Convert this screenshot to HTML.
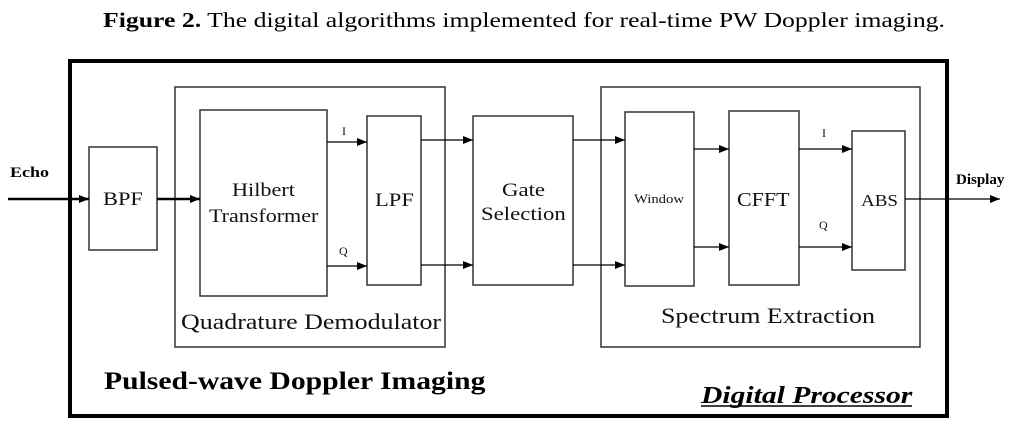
<!DOCTYPE html>
<html><head><style>body{margin:0;background:#fff}</style></head><body>
<svg width="1024" height="426" xmlns="http://www.w3.org/2000/svg" font-family="Liberation Serif, serif">
<defs><marker id="a" markerWidth="10" markerHeight="8" refX="10" refY="4" orient="auto" markerUnits="userSpaceOnUse"><path d="M0,0L10,4L0,8z" fill="#000"/></marker></defs>
<text transform="translate(103,27) scale(1.226,1)" font-size="21"><tspan font-weight="bold">Figure 2.</tspan> The digital algorithms implemented for real-time PW Doppler imaging.</text>
<rect x="70" y="61" width="877" height="355" fill="none" stroke="#000" stroke-width="4"/>
<g fill="none" stroke="#333" stroke-width="1.5">
<rect x="89" y="147" width="68" height="103"/>
<rect x="175" y="87" width="270" height="260"/>
<rect x="200" y="110" width="127" height="186"/>
<rect x="367" y="116" width="54" height="169"/>
<rect x="473" y="116" width="100" height="169"/>
<rect x="601" y="87" width="319" height="260"/>
<rect x="625" y="112" width="69" height="174"/>
<rect x="729" y="111" width="70" height="174"/>
<rect x="852" y="131" width="53" height="139"/>
</g>
<g stroke="#000" fill="none" stroke-width="1.3" marker-end="url(#a)">
<line x1="8" y1="199" x2="89" y2="199" stroke-width="2.5"/>
<line x1="157" y1="199" x2="200" y2="199" stroke-width="2.5"/>
<line x1="327" y1="142" x2="367" y2="142"/>
<line x1="327" y1="266" x2="367" y2="266"/>
<line x1="421" y1="140" x2="473" y2="140"/>
<line x1="421" y1="265" x2="473" y2="265"/>
<line x1="573" y1="140" x2="625" y2="140"/>
<line x1="573" y1="265" x2="625" y2="265"/>
<line x1="694" y1="149" x2="729" y2="149"/>
<line x1="694" y1="247" x2="729" y2="247"/>
<line x1="799" y1="149" x2="852" y2="149"/>
<line x1="799" y1="247" x2="852" y2="247"/>
<line x1="905" y1="199" x2="1000" y2="199"/>
</g>
<g font-size="20" fill="#111">
<text transform="translate(103,205) scale(1.18,1)" font-size="19">BPF</text>
<text transform="translate(232,196) scale(1.17,1)" font-size="19">Hilbert</text>
<text transform="translate(209,222) scale(1.16,1)" font-size="19">Transformer</text>
<text transform="translate(375,206) scale(1.19,1)" font-size="19">LPF</text>
<text transform="translate(502,196) scale(1.2,1)" font-size="19">Gate</text>
<text transform="translate(481,220) scale(1.2,1)" font-size="19">Selection</text>
<text transform="translate(634,203) scale(1.13,1)" font-size="13">Window</text>
<text transform="translate(737,206) scale(1.1,1)" font-size="20">CFFT</text>
<text transform="translate(861,206) scale(1.12,1)" font-size="17">ABS</text>
<text transform="translate(181,329) scale(1.18,1)" font-size="22">Quadrature Demodulator</text>
<text transform="translate(661,323) scale(1.18,1)" font-size="22">Spectrum Extraction</text>
<text x="342" y="135" font-size="12">I</text>
<text x="339" y="255" font-size="12">Q</text>
<text x="822" y="137" font-size="12">I</text>
<text x="819" y="229" font-size="12">Q</text>
</g>
<text transform="translate(10,177) scale(1.2,1)" font-size="15" font-weight="bold">Echo</text>
<text x="956" y="184" font-size="15" font-weight="bold">Display</text>
<text transform="translate(104,389) scale(1.186,1)" font-size="25" font-weight="bold">Pulsed-wave Doppler Imaging</text>
<text transform="translate(701,403) scale(1.234,1)" font-size="24" font-weight="bold" font-style="italic">Digital Processor</text>
<line x1="701" y1="406" x2="912" y2="406" stroke="#000" stroke-width="1.5"/>
</svg>
</body></html>
